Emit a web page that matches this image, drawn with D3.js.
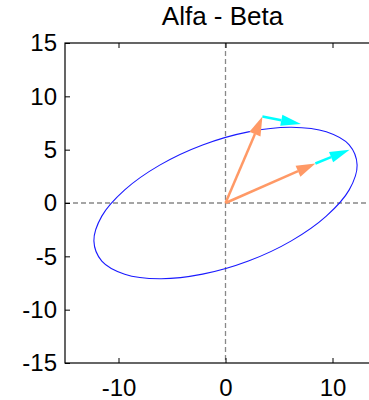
<!DOCTYPE html>
<html>
<head>
<meta charset="utf-8">
<script src="https://cdn.jsdelivr.net/npm/d3@7"></script>
<style>
  body { margin: 0; background: #fff; }
  svg { display: block; font-family: "Liberation Sans", Arial, sans-serif; }
</style>
</head>
<body>
<svg id="canvas"></svg>
<script>
// ellipse outline (x, y pairs going round)
let ellipseX = [12.3, 11.56, 9.42, 6.15, 2.14, -2.14, -6.15, -9.42, -11.56, -12.3, -11.56, -9.42, -6.15, -2.14, 2.14, 6.15, 9.42, 11.56]
let ellipseY = [3.55, 1.23, -1.23, -3.55, -5.44, -6.67, -7.1, -6.67, -5.44, -3.55, -1.23, 1.23, 3.55, 5.44, 6.67, 7.1, 6.67, 5.44]

// orange arrows: from origin
let orangeX0 = [0, 0]
let orangeY0 = [0, 0]
let orangeX1 = [3.45, 8.4]
let orangeY1 = [8.1, 3.7]

// cyan arrows: from orange tips to the ellipse
let cyanX0 = [3.45, 8.4]
let cyanY0 = [8.1, 3.7]
let cyanX1 = [7.05, 11.6]
let cyanY1 = [7.4, 5.0]

let xTicks = [-10, 0, 10]
let yTicks = [-15, -10, -5, 0, 5, 10, 15]

let width = 369
let height = 400
let plotLeft = 65, plotRight = 386, plotTop = 43, plotBottom = 363
let fontSize = 24

let canvas = d3.select("#canvas")
canvas.attr("width", width).attr("height", height)

let xScale = d3.scaleLinear().domain([-15, 15]).range([plotLeft, plotRight])
let yScale = d3.scaleLinear().domain([-15, 15]).range([plotBottom, plotTop])

// title
canvas.append("text")
      .attr("x", 222.5)
      .attr("y", 25)
      .attr("text-anchor", "middle")
      .attr("font-size", "26px")
      .text("Alfa - Beta")

// zero lines
canvas.append("line")
      .attr("x1", xScale(0)).attr("x2", xScale(0))
      .attr("y1", plotTop).attr("y2", plotBottom)
      .attr("stroke", "#888").attr("stroke-width", 1.3)
      .attr("stroke-dasharray", "5,3")
canvas.append("line")
      .attr("x1", plotLeft).attr("x2", plotRight)
      .attr("y1", yScale(0)).attr("y2", yScale(0))
      .attr("stroke", "#888").attr("stroke-width", 1.3)
      .attr("stroke-dasharray", "5,3")

// axes, ticks pointing inward; plain hyphen for negatives
let plain = d => String(d)
let xAxis = d3.axisBottom(xScale).tickValues(xTicks).tickFormat(plain).tickSizeInner(-5).tickSizeOuter(0).tickPadding(16)
let xAxisTop = d3.axisTop(xScale).tickValues(xTicks).tickSizeInner(-5).tickSizeOuter(0).tickFormat("")
let yAxis = d3.axisLeft(yScale).tickValues(yTicks).tickFormat(plain).tickSizeInner(-5).tickSizeOuter(0).tickPadding(8)

canvas.append("g").attr("transform", "translate(0," + plotBottom + ")").call(xAxis)
canvas.append("g").attr("transform", "translate(0," + plotTop + ")").call(xAxisTop)
canvas.append("g").attr("transform", "translate(" + plotLeft + ",0)").call(yAxis)

canvas.selectAll(".domain").remove()
canvas.selectAll(".tick text").attr("font-size", fontSize + "px").attr("fill", "#000")
canvas.selectAll(".tick line").attr("stroke", "#000")

// frame
canvas.append("rect")
      .attr("x", plotLeft).attr("y", plotTop)
      .attr("width", plotRight - plotLeft).attr("height", plotBottom - plotTop)
      .attr("fill", "none").attr("stroke", "#000").attr("stroke-width", 1.2)

// ellipse
let ellipsePoints = ellipseX.map((x, i) => [xScale(x), yScale(ellipseY[i])])
canvas.append("path")
      .attr("d", d3.line().curve(d3.curveCatmullRomClosed)(ellipsePoints))
      .attr("fill", "none")
      .attr("stroke", "#1a1aff")
      .attr("stroke-width", 1.1)

// arrows with filled heads
let drawArrow = (x0, y0, x1, y1, color, headLen, headW) => {
  let px0 = xScale(x0), py0 = yScale(y0)
  let px1 = xScale(x1), py1 = yScale(y1)
  let dx = px1 - px0, dy = py1 - py0
  let len = Math.sqrt(dx * dx + dy * dy)
  let ux = dx / len, uy = dy / len
  let bx = px1 - ux * headLen, by = py1 - uy * headLen
  canvas.append("line")
        .attr("x1", px0).attr("y1", py0)
        .attr("x2", bx).attr("y2", by)
        .attr("stroke", color).attr("stroke-width", 2.5)
  canvas.append("polygon")
        .attr("points", [
          [px1, py1],
          [bx - uy * headW / 2, by + ux * headW / 2],
          [bx + uy * headW / 2, by - ux * headW / 2]
        ].map(p => p.join(",")).join(" "))
        .attr("fill", color)
}

orangeX0.forEach((d, i) => drawArrow(orangeX0[i], orangeY0[i], orangeX1[i], orangeY1[i], "#ff9966", 19, 12))
cyanX0.forEach((d, i) => drawArrow(cyanX0[i], cyanY0[i], cyanX1[i], cyanY1[i], "#00ffff", 20, 11))
</script>
</body>
</html>
